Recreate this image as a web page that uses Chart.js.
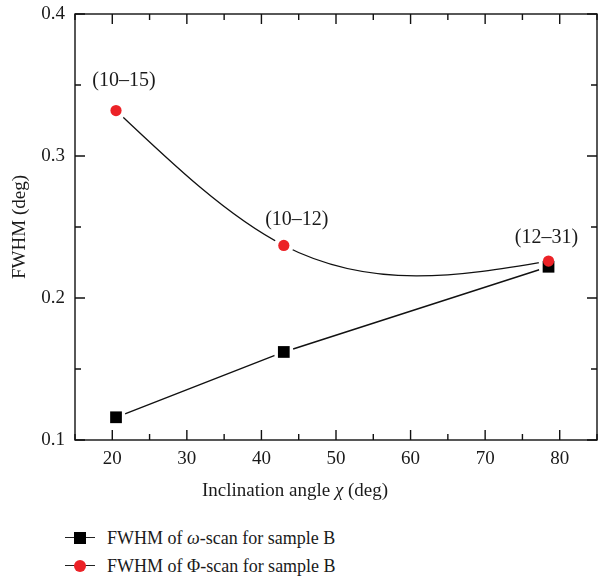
<!DOCTYPE html>
<html>
<head>
<meta charset="utf-8">
<script src="https://cdn.jsdelivr.net/npm/chart.js@4.4.1/dist/chart.umd.min.js"></script>
<style>
  html, body { margin: 0; padding: 0; background: #fff; overflow: hidden; width: 603px; height: 577px; }
  #wrap { position: absolute; left: 0; top: 0; width: 607px; height: 505px; }
  .texto { font-family: 'Liberation Serif', 'Times New Roman', serif; color: #1a1a1a; }
  #tituloX { position: absolute; left: 0; width: 590px; top: 478px; line-height: 24px; font-size: 19px; text-align: center; }
  .leyenda { position: absolute; left: 65px; font-size: 18px; }
  .fila { position: relative; height: 28px; display: flex; align-items: center; }
  .simbolo { position: relative; width: 30px; height: 14px; margin-right: 12px; }
  .simbolo .raya { position: absolute; left: 0; right: 0; top: 6px; height: 1.4px; background: #222; }
  .simbolo .cuadro { position: absolute; left: 9px; top: 1px; width: 12px; height: 12px; background: #000; }
  .simbolo .punto { position: absolute; left: 9px; top: 1px; width: 12px; height: 12px; border-radius: 50%; background: #ec2227; }
</style>
</head>
<body>
<div id="wrap"><canvas id="grafica" width="607" height="505"></canvas></div>
<div id="tituloX" class="texto">Inclination angle <i>χ</i> (deg)</div>
<div class="leyenda texto" style="top: 524px;">
  <div class="fila"><div class="simbolo"><div class="raya"></div><div class="cuadro"></div></div><span>FWHM of <i>ω</i>-scan for sample B</span></div>
  <div class="fila"><div class="simbolo"><div class="raya"></div><div class="punto"></div></div><span>FWHM of Φ-scan for sample B</span></div>
</div>
<script>
// Datos
const angulos = [20.5, 43.0, 78.5];            // ángulo de inclinación χ (deg)
const fwhmOmega = [0.116, 0.162, 0.222];       // ω-scan, muestra B
const fwhmPhi = [0.332, 0.237, 0.226];         // Φ-scan, muestra B
const etiquetasPhi = ['(10\u201315)', '(10\u201312)', '(12\u201331)'];
const ticksX = [20, 30, 40, 50, 60, 70, 80];
const ticksY = [0.1, 0.2, 0.3, 0.4];
const etiquetasY = ['0.1', '0.2', '0.3', '0.4'];

const FUENTE = "'Liberation Serif', 'Times New Roman', serif";
const ROJO = '#ec2227';
const NEGRO = '#111';

const puntos = (ys) => angulos.map((x, i) => ({ x, y: ys[i] }));

// Marco con ticks hacia adentro en los cuatro lados (estilo Origin)
const marcoInterior = {
  id: 'marcoInterior',
  beforeDatasetsDraw(chart) {
    const { ctx, chartArea: a, scales } = chart;
    ctx.save();
    ctx.strokeStyle = NEGRO;
    ctx.lineWidth = 1.4;
    ctx.strokeRect(a.left, a.top, a.right - a.left, a.bottom - a.top);
    ctx.beginPath();
    const xs = scales.x, ys = scales.y;
    for (let v = xs.min; v <= xs.max + 1e-9; v += 5) {
      const px = xs.getPixelForValue(v);
      const largo = ticksX.includes(v) ? 10 : 6;
      ctx.moveTo(px, a.bottom); ctx.lineTo(px, a.bottom - largo);
      ctx.moveTo(px, a.top); ctx.lineTo(px, a.top + largo);
    }
    for (let k = 0; k <= 6; k++) {
      const py = ys.getPixelForValue(ys.min + k * 0.05);
      const largo = k % 2 === 0 ? 10 : 6;
      ctx.moveTo(a.left, py); ctx.lineTo(a.left + largo, py);
      ctx.moveTo(a.right, py); ctx.lineTo(a.right - largo, py);
    }
    ctx.stroke();
    ctx.restore();
  }
};

// Spline cúbico natural (como "Spline" de Origin): se reemplazan los puntos
// de control que calcula Chart.js por las tangentes del spline natural.
const splineNatural = {
  id: 'splineNatural',
  beforeDatasetDraw(chart, args) {
    if (!chart.data.datasets[args.index].splineNatural) return;
    const meta = args.meta;
    meta.dataset.updateControlPoints(chart.chartArea, 'x');
    const p = meta.data;
    const n = p.length;
    if (n < 2) return;
    const h = [], d = [];
    for (let i = 0; i < n - 1; i++) {
      h[i] = p[i + 1].x - p[i].x;
      d[i] = (p[i + 1].y - p[i].y) / h[i];
    }
    const M = new Array(n).fill(0);
    if (n > 2) {
      const a = [], b = [], c = [], r = [];
      for (let i = 1; i < n - 1; i++) {
        a.push(h[i - 1]); b.push(2 * (h[i - 1] + h[i])); c.push(h[i]); r.push(6 * (d[i] - d[i - 1]));
      }
      const m = b.length;
      for (let i = 1; i < m; i++) {
        const w = a[i] / b[i - 1];
        b[i] -= w * c[i - 1];
        r[i] -= w * r[i - 1];
      }
      const sol = new Array(m);
      sol[m - 1] = r[m - 1] / b[m - 1];
      for (let i = m - 2; i >= 0; i--) sol[i] = (r[i] - c[i] * sol[i + 1]) / b[i];
      for (let i = 1; i < n - 1; i++) M[i] = sol[i - 1];
    }
    const pend = p.map((_, i) => (i < n - 1
      ? d[i] - h[i] * (2 * M[i] + M[i + 1]) / 6
      : d[n - 2] + h[n - 2] * (M[n - 2] + 2 * M[n - 1]) / 6));
    for (let i = 0; i < n - 1; i++) {
      p[i].cp2x = p[i].x + h[i] / 3;
      p[i].cp2y = p[i].y + pend[i] * h[i] / 3;
      p[i + 1].cp1x = p[i + 1].x - h[i] / 3;
      p[i + 1].cp1y = p[i + 1].y - pend[i + 1] * h[i] / 3;
    }
  }
};

// Rótulos (hkl) sobre los puntos rojos
const desplazamientos = [{ dx: 8, dy: -30 }, { dx: 13, dy: -26 }, { dx: -2, dy: -23 }];
const rotulos = {
  id: 'rotulos',
  afterDatasetsDraw(chart) {
    const meta = chart.getDatasetMeta(5);
    const { ctx } = chart;
    ctx.save();
    ctx.font = `20px ${FUENTE}`;
    ctx.fillStyle = '#1a1a1a';
    ctx.textAlign = 'center';
    ctx.textBaseline = 'middle';
    meta.data.forEach((p, i) => {
      ctx.fillText(etiquetasPhi[i], p.x + desplazamientos[i].dx, p.y + desplazamientos[i].dy);
    });
    ctx.restore();
  }
};

new Chart(document.getElementById('grafica'), {
  type: 'line',
  data: {
    datasets: [
      { data: puntos(fwhmPhi), splineNatural: true, borderColor: NEGRO, borderWidth: 1.3, tension: 0.4, pointRadius: 0, order: 10 },
      { data: puntos(fwhmOmega), borderColor: NEGRO, borderWidth: 1.4, tension: 0, pointRadius: 0, order: 10 },
      // huecos blancos alrededor de los marcadores
      { data: puntos(fwhmOmega), showLine: false, pointRadius: 10, pointBackgroundColor: '#fff', pointBorderWidth: 0, order: 5 },
      { data: puntos(fwhmPhi), showLine: false, pointRadius: 10, pointBackgroundColor: '#fff', pointBorderWidth: 0, order: 5 },
      // marcadores
      { data: puntos(fwhmOmega), showLine: false, pointStyle: 'rect', pointRadius: 8.3, pointBackgroundColor: '#000', pointBorderWidth: 0, order: 2 },
      { data: puntos(fwhmPhi), showLine: false, pointStyle: 'circle', pointRadius: 5.6, pointBackgroundColor: ROJO, pointBorderWidth: 0, order: 1 }
    ]
  },
  options: {
    responsive: false,
    animation: false,
    events: [],
    layout: { padding: { top: 14, right: 2, left: 0, bottom: 0 } },
    plugins: { legend: { display: false }, tooltip: { enabled: false } },
    scales: {
      x: {
        type: 'linear',
        min: 15,
        max: 85,
        afterBuildTicks: (s) => { s.ticks = ticksX.map((v) => ({ value: v })); },
        afterFit: (s) => { s.height = 65; s.paddingLeft = 0; s.paddingRight = 0; },
        grid: { display: false, drawTicks: false },
        border: { display: false },
        ticks: { color: '#1a1a1a', padding: 8, font: { family: FUENTE, size: 19 } },
        title: { display: false }
      },
      y: {
        type: 'linear',
        min: 0.1,
        max: 0.4,
        afterBuildTicks: (s) => { s.ticks = ticksY.map((v) => ({ value: v })); },
        afterFit: (s) => { s.width = 75; s.paddingTop = 0; s.paddingBottom = 0; },
        grid: { display: false, drawTicks: false },
        border: { display: false },
        ticks: {
          color: '#1a1a1a',
          padding: 10,
          font: { family: FUENTE, size: 19 },
          callback: (v, i) => etiquetasY[i]
        },
        title: {
          display: true,
          text: 'FWHM (deg)',
          color: '#1a1a1a',
          padding: { top: 9, bottom: 0 },
          font: { family: FUENTE, size: 19 }
        }
      }
    }
  },
  plugins: [marcoInterior, splineNatural, rotulos]
});
</script>
</body>
</html>
